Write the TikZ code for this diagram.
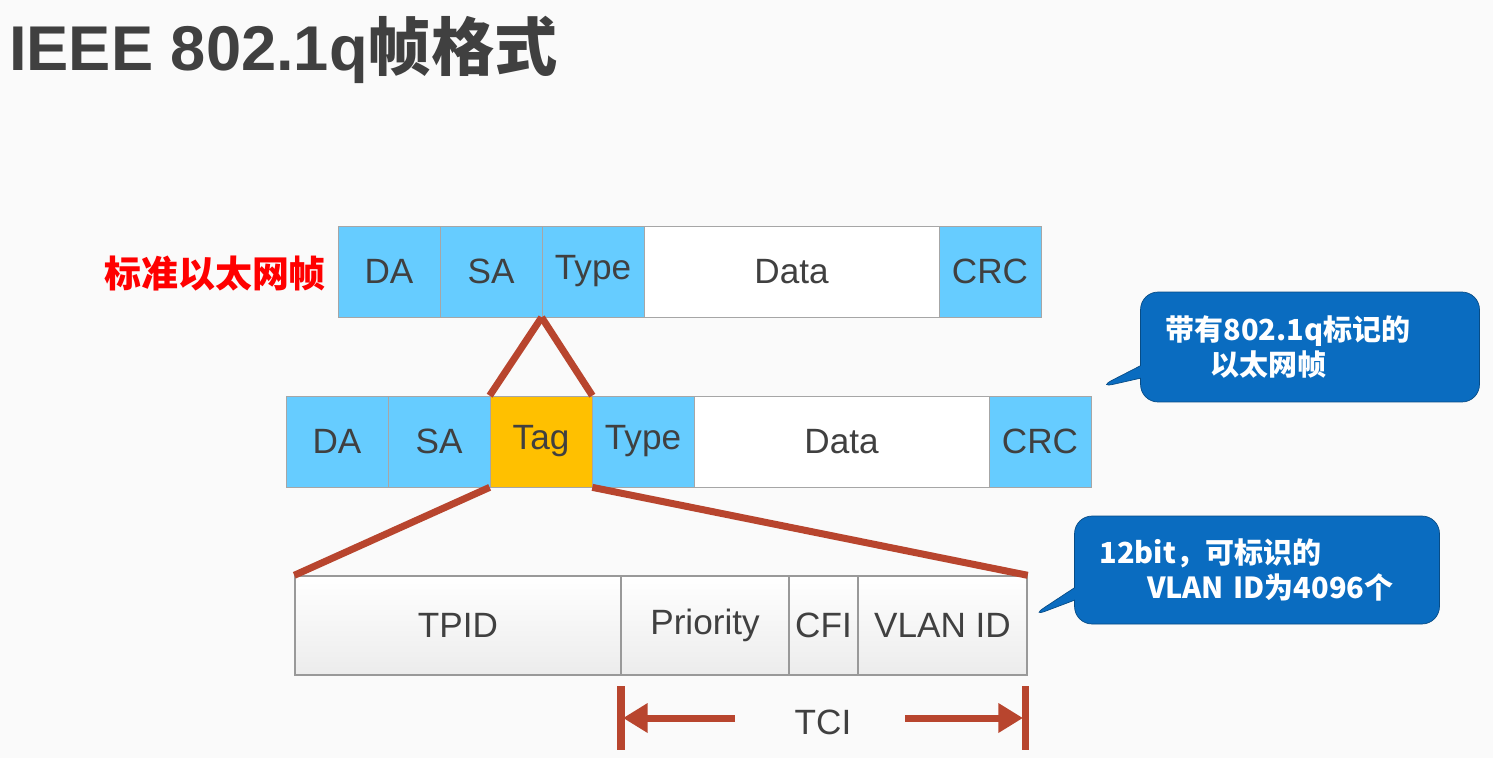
\documentclass[tikz,border=0pt]{standalone}
\usepackage{fontspec}
\setmainfont{Liberation Sans}
\newfontfamily\cjk{Noto Sans CJK SC}
\usetikzlibrary{shapes.callouts,arrows.meta}
\definecolor{fb}{HTML}{66CCFF}
\definecolor{tg}{HTML}{FFC000}
\definecolor{rl}{HTML}{B8452E}
\definecolor{cb}{HTML}{0A6CC0}
\definecolor{tt}{HTML}{404040}
\begin{document}
\begin{tikzpicture}[x=0.02cm,y=-0.02cm,
 fld/.style={draw=gray!70,minimum height=1.82cm,inner sep=0,font=\fontsize{20}{22}\selectfont,text=tt},
 sub/.style={draw=gray!80,line width=0.8pt,minimum height=1.98cm,inner sep=0,font=\fontsize{20}{22}\selectfont,text=tt,top color=white,bottom color=gray!15},
 red/.style={rl,line width=4pt},
 call/.style={rectangle callout,rounded corners=10pt,fill=cb,draw=cb!70!black,text=white,font=\cjk\bfseries\fontsize{16.5}{20}\selectfont,align=left,inner xsep=0,inner ysep=0}]
\useasboundingbox (0,0) rectangle (1493,758);
\fill[gray!4] (0,0) rectangle (1493,758);
\node[anchor=west,text=tt,font=\bfseries\fontsize{36}{38}\selectfont] (title) at (3,50) {IEEE 802.1q{\cjk 帧格式}};
% row 1
\node[anchor=east,text=red,font=\cjk\bfseries\fontsize{21}{24}\selectfont] (std) at (332,274) {标准以太网帧};
\foreach \n/\a/\b/\t/\c in {a1/338/440/DA/fb,b1/440/542/SA/fb,c1/542/644/Type/fb,d1/644/939/Data/white,e1/939/1041/CRC/fb}
  \node[fld,fill=\c,minimum width={(\b-\a)*0.02cm}] (\n) at ({(\a+\b)/2},271.5) {\t};
% row 2
\foreach \n/\a/\b/\t/\c in {a2/286/388/DA/fb,b2/388/490/SA/fb,t2/490/592/Tag/tg,c2/592/694/Type/fb,d2/694/989/Data/white,e2/989/1091/CRC/fb}
  \node[fld,fill=\c,minimum width={(\b-\a)*0.02cm}] (\n) at ({(\a+\b)/2},441.5) {\t};
% row 3
\foreach \n/\a/\b/\t in {p3/295/621/TPID,q3/621/789/Priority,r3/789/858/CFI,v3/858/1027/VLAN ID}
  \node[sub,minimum width={(\b-\a)*0.02cm}] (\n) at ({(\a+\b)/2},625.5) {\t};
% lines
\draw[red] (c1.south west) -- (t2.north west);
\draw[red] (c1.south west) -- (t2.north east);
\draw[red] (t2.south west) -- (p3.north west);
\draw[red] (t2.south east) -- (v3.north east);
% TCI
\coordinate (l1) at (621,686); \coordinate (l2) at (621,750);
\coordinate (r1) at (1025,686); \coordinate (r2) at (1025,750);
\draw[red] (l1) -- (l2); \draw[red] (r1) -- (r2);
\node[font=\fontsize{20}{22}\selectfont,text=tt] (tci) at (823,722) {TCI};
\coordinate (la) at (735,718); \coordinate (ra) at (905,718);
\draw[red,-{Triangle[length=14pt,width=16pt]}] (la) -- (623,718);
\draw[red,-{Triangle[length=14pt,width=16pt]}] (ra) -- (1023,718);
% callouts
\node[call,text width=6.78cm,minimum height=2.2cm,callout absolute pointer={(1097,388)}] (co1) at (1310,347)
 {\hspace*{0.5cm}带有802.1q标记的\\\hspace*{1.4cm}以太网帧};
\node[call,text width=7.3cm,minimum height=2.16cm,callout absolute pointer={(1030,617)}] (co2) at (1257,570)
 {\hspace*{0.5cm}12bit，可标识的\\\hspace*{1.45cm}VLAN ID为4096个};
\end{tikzpicture}
\end{document}
